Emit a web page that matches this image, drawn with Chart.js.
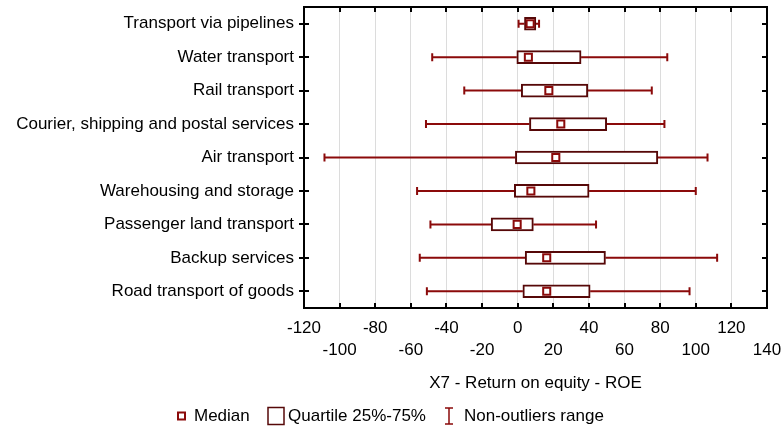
<!DOCTYPE html>
<html>
<head>
<meta charset="utf-8">
<script src="https://cdn.jsdelivr.net/npm/chart.js@4/dist/chart.umd.min.js"></script>
<style>
  html, body { margin: 0; padding: 0; background: #fff; }
  #wrap { width: 784px; height: 428px; }
</style>
</head>
<body>
<div id="wrap"><canvas id="roeChart" width="784" height="428"></canvas></div>
<script>
// data (ROE, %)
const categories = [
    "Transport via pipelines",
    "Water transport",
    "Rail transport",
    "Courier, shipping and postal services",
    "Air transport",
    "Warehousing and storage",
    "Passenger land transport",
    "Backup services",
    "Road transport of goods"
];
const whiskerMin = [0.5, -48, -30, -51.5, -108.5, -56.5, -49, -55, -51];
const quartile25 = [3.8, -0.5, 2, 6.6, -1.3, -1.9, -14.9, 4.2, 2.9];
const medians    = [7, 6, 17.5, 24.2, 21.4, 7.4, -0.3, 16.3, 16.3];
const quartile75 = [10.2, 35.6, 39.4, 50, 78.7, 40.1, 8.8, 49.3, 40.7];
const whiskerMax = [12, 84, 75.3, 82.4, 106.6, 100, 44, 112, 96.5];

const xTicks = [-120, -100, -80, -60, -40, -20, 0, 20, 40, 60, 80, 100, 120, 140];

const axisTitle = "X7 - Return on equity - ROE";
const legendLabels = ["Median", "Quartile 25%-75%", "Non-outliers range"];

const FONT = "Liberation Sans, Arial, sans-serif";
const boxColor = "#560808";
const whiskerColor = "#8b0a0a";

// whiskers under the boxes
const whiskerPlugin = {
    id: "whiskers",
    beforeDatasetsDraw(chart) {
        const { ctx, scales: { x, y } } = chart;
        ctx.save();
        ctx.strokeStyle = whiskerColor;
        ctx.lineWidth = 2;
        categories.forEach((c, i) => {
            const py = y.getPixelForValue(i);
            const x0 = x.getPixelForValue(whiskerMin[i]);
            const x1 = x.getPixelForValue(quartile25[i]);
            const x2 = x.getPixelForValue(quartile75[i]);
            const x3 = x.getPixelForValue(whiskerMax[i]);
            ctx.beginPath();
            ctx.moveTo(x0, py); ctx.lineTo(x1, py);
            ctx.moveTo(x2, py); ctx.lineTo(x3, py);
            ctx.moveTo(x0, py - 4); ctx.lineTo(x0, py + 4);
            ctx.moveTo(x3, py - 4); ctx.lineTo(x3, py + 4);
            ctx.stroke();
        });
        ctx.restore();
    }
};

// black frame with inner tick marks
const framePlugin = {
    id: "frame",
    afterDatasetsDraw(chart) {
        const { ctx, chartArea: a, scales: { x, y } } = chart;
        ctx.save();
        ctx.strokeStyle = "#000";
        ctx.lineWidth = 2;
        ctx.strokeRect(a.left, a.top, a.right - a.left, a.bottom - a.top);
        ctx.beginPath();
        xTicks.forEach(v => {
            const px = Math.round(x.getPixelForValue(v));
            ctx.moveTo(px, a.top); ctx.lineTo(px, a.top + 5);
            ctx.moveTo(px, a.bottom); ctx.lineTo(px, a.bottom - 5);
        });
        categories.forEach((c, i) => {
            const py = Math.round(y.getPixelForValue(i));
            ctx.moveTo(a.left - 5, py); ctx.lineTo(a.left + 5, py);
            ctx.moveTo(a.right, py); ctx.lineTo(a.right - 5, py);
        });
        ctx.stroke();
        ctx.restore();
    }
};

// legend row at the bottom
const legendPlugin = {
    id: "boxLegend",
    afterDraw(chart) {
        const ctx = chart.ctx;
        const cy = 416;
        ctx.save();
        ctx.font = "17px " + FONT;
        ctx.fillStyle = "#000";
        ctx.textBaseline = "middle";
        // median
        ctx.strokeStyle = whiskerColor;
        ctx.lineWidth = 2;
        ctx.strokeRect(178, cy - 3.5, 7, 7);
        ctx.fillText(legendLabels[0], 194, cy);
        // quartile box
        ctx.strokeStyle = boxColor;
        ctx.lineWidth = 1.5;
        ctx.strokeRect(268, cy - 8.5, 16, 17);
        ctx.fillText(legendLabels[1], 288, cy);
        // whisker range
        ctx.strokeStyle = whiskerColor;
        ctx.beginPath();
        ctx.moveTo(449, cy - 8); ctx.lineTo(449, cy + 8);
        ctx.moveTo(445, cy - 8); ctx.lineTo(453, cy - 8);
        ctx.moveTo(445, cy + 8); ctx.lineTo(453, cy + 8);
        ctx.stroke();
        ctx.fillText(legendLabels[2], 464, cy);
        ctx.restore();
    }
};

function buildChart() {
    const ctx = document.getElementById("roeChart");

    new Chart(ctx, {
        type: "bar",
        data: {
            labels: categories,
            datasets: [{
                type: "scatter",
                label: "Median",
                data: medians.map((m, i) => ({ x: m, y: i })),
                pointStyle: "rect",
                pointRadius: 5,
                pointBorderWidth: 2,
                pointBackgroundColor: "#fff",
                pointBorderColor: whiskerColor,
                order: 1
            }, {
                label: "Quartile 25%-75%",
                data: quartile25.map((q, i) => [q, quartile75[i]]),
                backgroundColor: "#fff",
                borderColor: boxColor,
                borderWidth: 2,
                borderSkipped: false,
                barThickness: 13,
                order: 2
            }]
        },
        options: {
            indexAxis: "y",
            responsive: false,
            animation: false,
            layout: { padding: { top: 7, right: 17, left: 0, bottom: 0 } },
            plugins: {
                legend: { display: false },
                tooltip: { enabled: false }
            },
            scales: {
                x: {
                    type: "linear",
                    min: -120,
                    max: 140,
                    afterBuildTicks: s => { s.ticks = xTicks.map(v => ({ value: v })); },
                    afterFit: s => {
                        s.height = 120;
                        s.paddingLeft = 0;
                        s.paddingRight = 0;
                    },
                    grid: { color: "#dcdcdc", lineWidth: 1, drawTicks: false },
                    border: { display: false },
                    ticks: {
                        autoSkip: false,
                        maxRotation: 0,
                        padding: 9,
                        color: "#000",
                        font: { family: FONT, size: 17, lineHeight: 1.3 },
                        callback: (v, i) => (i % 2 === 0 ? [String(v), ""] : ["", String(v)])
                    },
                    title: {
                        display: true,
                        text: axisTitle,
                        color: "#000",
                        font: { family: FONT, size: 17, lineHeight: 1.3 },
                        padding: { top: 0, bottom: 34 }
                    }
                },
                y: {
                    type: "category",
                    afterFit: s => {
                        s.width = 304;
                        s.paddingTop = 0;
                        s.paddingBottom = 0;
                    },
                    grid: { display: false, drawTicks: false },
                    border: { display: false },
                    ticks: {
                        padding: 10,
                        color: "#000",
                        font: { family: FONT, size: 17 }
                    }
                }
            }
        },
        plugins: [whiskerPlugin, framePlugin, legendPlugin]
    });
}

document.addEventListener("DOMContentLoaded", function () {
    buildChart();
});
</script>
</body>
</html>
